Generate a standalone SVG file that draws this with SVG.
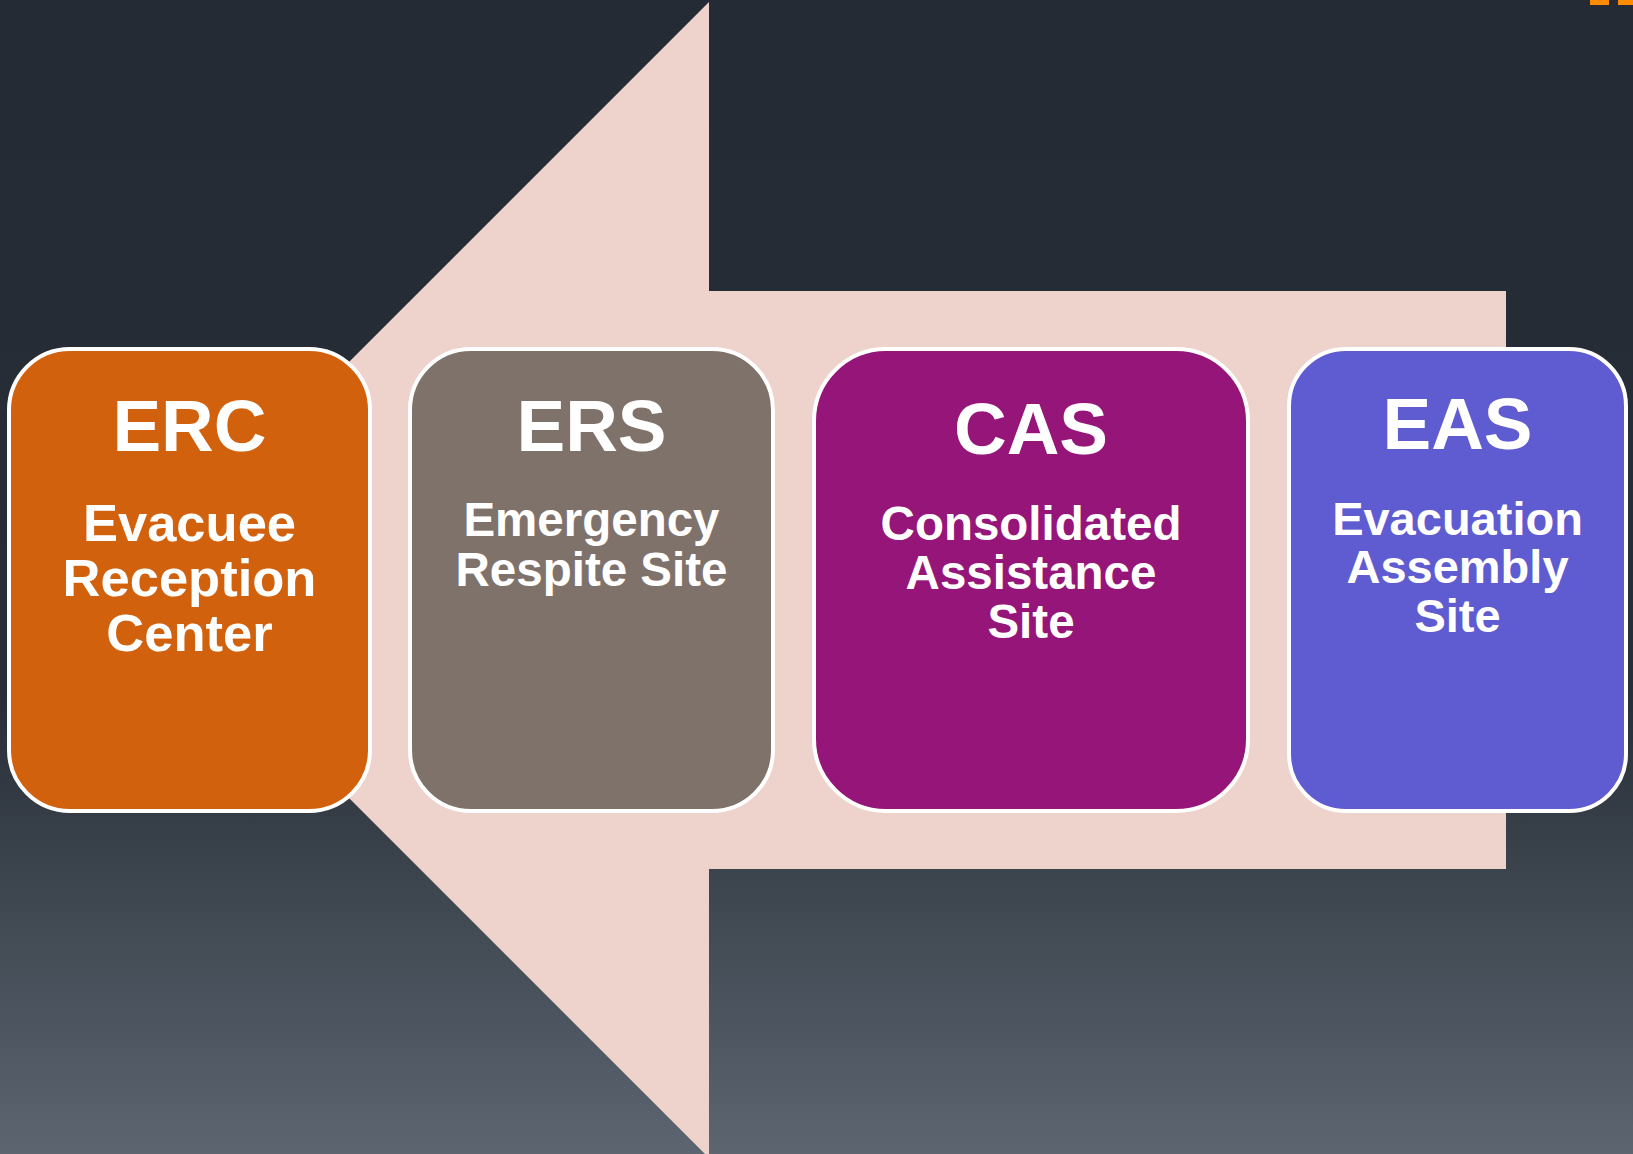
<svg xmlns="http://www.w3.org/2000/svg" width="1633" height="1154" viewBox="0 0 1633 1154">
  <defs>
    <linearGradient id="bg" x1="0" y1="0" x2="0" y2="1">
      <stop offset="0" stop-color="#252b34"/>
      <stop offset="0.6" stop-color="#272e37"/>
      <stop offset="1" stop-color="#5c6570"/>
    </linearGradient>
    <style>
      .box { stroke: #ffffff; stroke-width: 4; }
      .title { font-family: "Liberation Sans", Arial, sans-serif; font-weight: bold; font-size: 73px; fill: #ffffff; text-anchor: middle; }
      .sub { font-family: "Liberation Sans", Arial, sans-serif; font-weight: bold; fill: #ffffff; text-anchor: middle; }
    </style>
  </defs>

  <!-- background -->
  <rect x="0" y="0" width="1633" height="1154" fill="url(#bg)"/>
  <!-- corner accent marks -->
  <rect x="1590" y="0" width="19" height="5" fill="#ff8c00"/>
  <rect x="1618" y="0" width="15" height="5" fill="#ff8c00"/>

  <!-- large left-pointing arrow -->
  <g id="connectors">
    <polygon points="131,580 709,2 709,291 1506,291 1506,869 709,869 709,1158" fill="#edd3cc"/>
  </g>

  <g id="erc">
    <rect class="box" x="9" y="349" width="361" height="462" rx="61" ry="61" fill="#d1610c"/>
    <text class="title" x="189.5" y="451">ERC</text>
    <text class="sub" font-size="52.5" x="189.5" y="541">Evacuee</text>
    <text class="sub" font-size="52.5" x="189.5" y="596">Reception</text>
    <text class="sub" font-size="52.5" x="189.5" y="651">Center</text>
  </g>

  <g id="ers">
    <rect class="box" x="410" y="349" width="363" height="462" rx="61" ry="61" fill="#7f726b"/>
    <text class="title" x="591.5" y="451">ERS</text>
    <text class="sub" font-size="47.5" x="591.5" y="536">Emergency</text>
    <text class="sub" font-size="47.5" x="591.5" y="586">Respite Site</text>
  </g>

  <g id="cas">
    <rect class="box" x="814" y="349" width="434" height="462" rx="72" ry="72" fill="#951578"/>
    <text class="title" x="1031" y="454">CAS</text>
    <text class="sub" font-size="47.5" x="1031" y="540">Consolidated</text>
    <text class="sub" font-size="47.5" x="1031" y="589">Assistance</text>
    <text class="sub" font-size="47.5" x="1031" y="638">Site</text>
  </g>

  <g id="eas">
    <rect class="box" x="1289" y="349" width="337" height="462" rx="57" ry="57" fill="#5f5bd0"/>
    <text class="title" x="1457.5" y="449">EAS</text>
    <text class="sub" font-size="47" x="1457.5" y="535">Evacuation</text>
    <text class="sub" font-size="47" x="1457.5" y="583">Assembly</text>
    <text class="sub" font-size="47" x="1457.5" y="632">Site</text>
  </g>
</svg>
